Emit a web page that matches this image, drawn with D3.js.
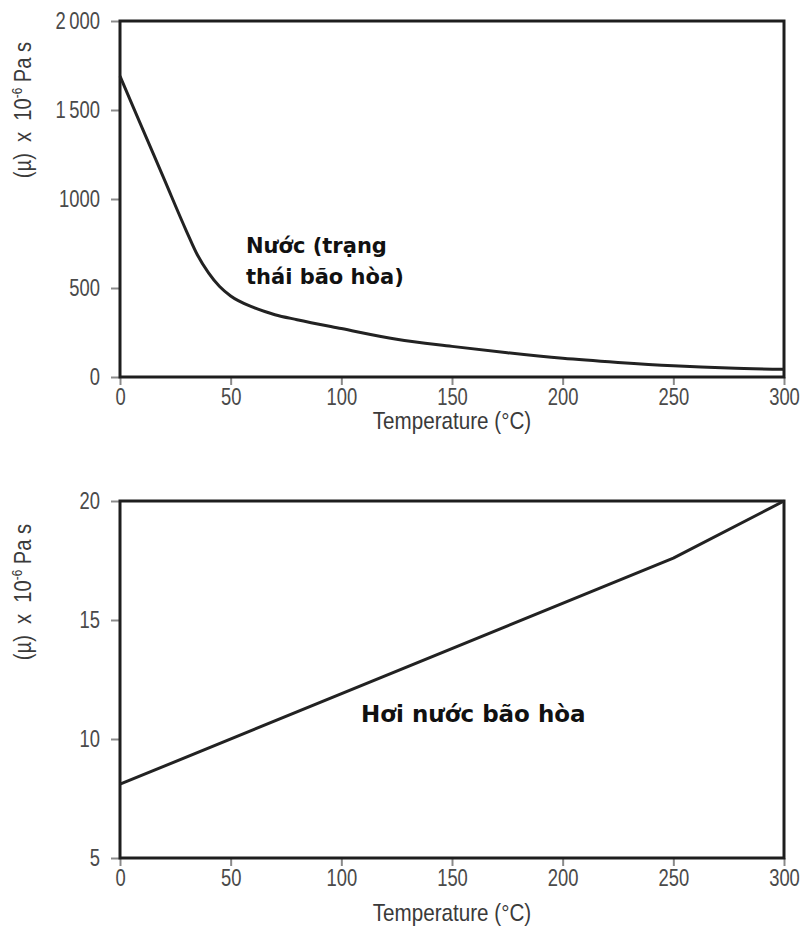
<!DOCTYPE html>
<html>
<head>
<meta charset="utf-8">
<script src="https://cdn.jsdelivr.net/npm/d3@7"></script>
<style>
  html, body { margin: 0; padding: 0; background: #fff; }
  svg { display: block; }
  .tick text { font-family: "Liberation Sans", Arial, sans-serif; font-size: 23px; fill: #4a4a4a; }
  .axis-title { font-family: "Liberation Sans", Arial, sans-serif; font-size: 24px; fill: #3a3a3a; white-space: pre; }
  .note { font-family: "DejaVu Sans", Verdana, sans-serif; font-weight: bold; fill: #111; }
</style>
</head>
<body>
<script>
// ---- Data ----
const waterTemp = [0, 10, 20, 30, 35, 40, 45, 50, 60, 70, 80, 100, 125, 150, 175, 200, 225, 250, 275, 300];
const waterVisc = [1690, 1400, 1110, 820, 685, 585, 508, 455, 392, 350, 322, 272, 212, 172, 136, 105, 82, 63, 50, 43];

const steamTemp = [0, 250, 300];
const steamVisc = [8.1, 17.6, 20.0];

const xTicks = [0, 50, 100, 150, 200, 250, 300];
const yTicksTop = [0, 500, 1000, 1500, 2000];
const yTickLabelsTop = ["0", "500", "1000", "1\u2009500", "2\u2009000"];
const yTicksBottom = [5, 10, 15, 20];
const yTickLabelsBottom = ["5", "10", "15", "20"];

const xTitle = "Temperature (°C)";
const waterNote = ["Nước (trạng", "thái bão hòa)"];
const steamNote = "Hơi nước bão hòa";

// ---- Drawing ----
const W = 803, H = 930;
const NARROW = 0.8;
const svg = d3.select("body").append("svg").attr("width", W).attr("height", H);

function narrowTicks(sel) {
  sel.selectAll(".tick text").each(function () {
    const t = d3.select(this);
    const x = +t.attr("x") || 0;
    t.attr("x", x / NARROW).attr("transform", `scale(${NARROW},1)`);
  });
}

function panel(cfg) {
  const x = d3.scaleLinear().domain([0, 300]).range([cfg.left, cfg.right]);
  const y = d3.scaleLinear().domain(cfg.yDomain).range([cfg.bottom, cfg.top]);
  const g = svg.append("g");

  // y axis
  const yAx = g.append("g").attr("transform", `translate(${cfg.left},0)`)
    .call(d3.axisLeft(y).tickValues(cfg.yTicks)
      .tickFormat((d, i) => cfg.yLabels[i]).tickSize(9).tickPadding(11));
  yAx.select(".domain").remove();
  yAx.selectAll(".tick line").attr("stroke", "#8a8a8a").attr("stroke-width", 2);
  narrowTicks(yAx);

  // x axis
  const xAx = g.append("g").attr("transform", `translate(0,${cfg.bottom})`)
    .call(d3.axisBottom(x).tickValues(xTicks).tickSize(8).tickPadding(4));
  xAx.select(".domain").remove();
  xAx.selectAll(".tick line").attr("stroke", "#8a8a8a").attr("stroke-width", 2);
  narrowTicks(xAx);

  // frame
  g.append("rect")
    .attr("x", cfg.left).attr("y", cfg.top)
    .attr("width", cfg.right - cfg.left).attr("height", cfg.bottom - cfg.top)
    .attr("fill", "none").attr("stroke", "#1e1e1e").attr("stroke-width", 3);

  // line
  const line = d3.line().x(d => x(d[0])).y(d => y(d[1])).curve(cfg.curve);
  g.append("path")
    .datum(cfg.xs.map((t, i) => [t, cfg.ys[i]]))
    .attr("d", line)
    .attr("fill", "none").attr("stroke", "#222").attr("stroke-width", 3)
    .attr("stroke-linejoin", "round");

  // x title
  const cx = (cfg.left + cfg.right) / 2;
  g.append("text").attr("class", "axis-title")
    .attr("transform", `translate(${cx},${cfg.bottom + cfg.titleGap}) scale(0.86,1)`)
    .attr("text-anchor", "middle").text(xTitle);

  // y title
  const yt = g.append("text").attr("class", "axis-title")
    .attr("transform", `translate(31,${cfg.yTitleCenter}) rotate(-90) scale(0.84,1)`)
    .attr("text-anchor", "middle");
  yt.append("tspan").text("(µ)  x  10");
  yt.append("tspan").attr("font-size", "14px").attr("dy", "-9").text("-6");
  yt.append("tspan").attr("dy", "9").text(" Pa s");

  return { x, y, g };
}

const p1 = panel({
  left: 120, right: 784, top: 21, bottom: 377,
  yDomain: [0, 2000], yTicks: yTicksTop, yLabels: yTickLabelsTop,
  xs: waterTemp, ys: waterVisc, yTitleCenter: 110, curve: d3.curveMonotoneX,
  titleGap: 52
});
p1.g.append("text").attr("class", "note").attr("font-size", 21).attr("x", 246).attr("y", 253).text(waterNote[0]);
p1.g.append("text").attr("class", "note").attr("font-size", 21).attr("x", 246).attr("y", 284).text(waterNote[1]);

const p2 = panel({
  left: 120, right: 784, top: 501, bottom: 858,
  yDomain: [5, 20], yTicks: yTicksBottom, yLabels: yTickLabelsBottom,
  xs: steamTemp, ys: steamVisc, yTitleCenter: 592, curve: d3.curveLinear,
  titleGap: 63
});
p2.g.append("text").attr("class", "note").attr("font-size", 23).attr("x", 361).attr("y", 722).text(steamNote);
</script>
</body>
</html>
